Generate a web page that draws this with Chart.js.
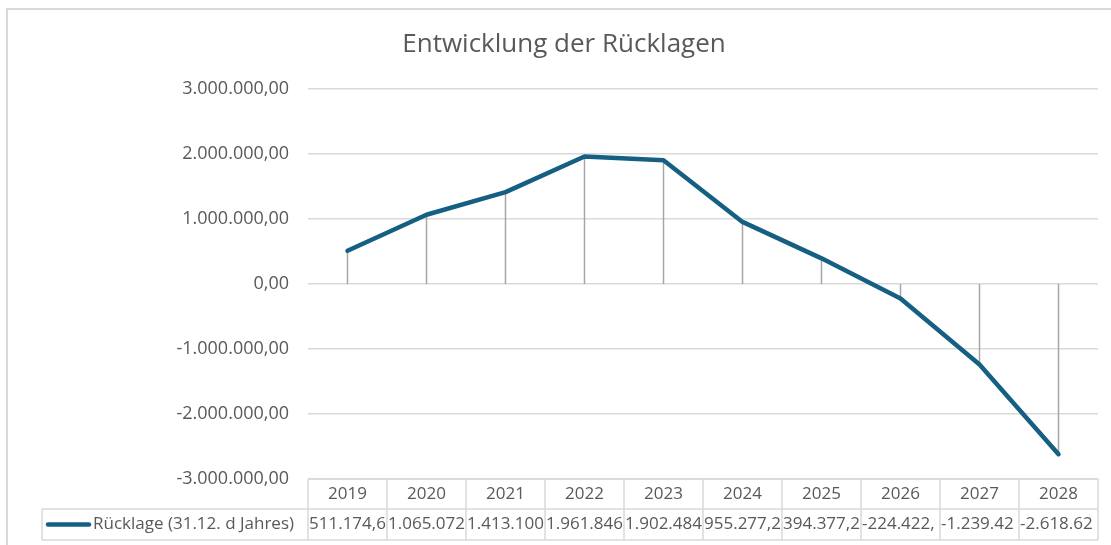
<!DOCTYPE html>
<html>
<head>
<meta charset="utf-8">
<script src="https://cdn.jsdelivr.net/npm/chart.js@4.4.1/dist/chart.umd.min.js"></script>
<style>
    html, body { margin: 0; padding: 0; background: #fff; overflow: hidden; }
    #frame { position: absolute; left: 6px; top: 8px; width: 1200px; height: 600px; border: 2px solid #d9d9d9; box-sizing: border-box; }
    #wrap { position: absolute; left: 0; top: 0; width: 1111px; height: 545px; }
</style>
</head>
<body>
<div id="frame"></div>
<div id="wrap"><canvas id="chart" width="1111" height="545"></canvas></div>
<script>
// --- Data ---
const years = ['2019', '2020', '2021', '2022', '2023', '2024', '2025', '2026', '2027', '2028'];
const reserves = [511174.6, 1065072, 1413100, 1961846, 1902484, 955277.2, 394377.2, -224422, -1239420, -2618620];
const yTicks = [-3000000, -2000000, -1000000, 0, 1000000, 2000000, 3000000];
const seriesName = 'Rücklage (31.12. d Jahres)';
const chartTitle = 'Entwicklung der Rücklagen';

const FONT = "'Open Sans', sans-serif";
const TEXT = '#595959';
const GRID = '#d9d9d9';
const LINE = '#156082';

// German number format, 2 decimals
function fmt(v) {
    const neg = v < 0;
    const parts = Math.abs(v).toFixed(2).split('.');
    const int = parts[0].replace(/\B(?=(\d{3})+(?!\d))/g, '.');
    return (neg ? '-' : '') + int + ',' + parts[1];
}

// --- Plugins ---
const dropLines = {
    id: 'dropLines',
    beforeDatasetsDraw(chart) {
        const ctx = chart.ctx;
        const meta = chart.getDatasetMeta(0);
        const y0 = chart.scales.y.getPixelForValue(0);
        ctx.save();
        ctx.strokeStyle = '#a6a6a6';
        ctx.lineWidth = 1.5;
        meta.data.forEach(pt => {
            ctx.beginPath();
            ctx.moveTo(pt.x, y0);
            ctx.lineTo(pt.x, pt.y);
            ctx.stroke();
        });
        ctx.restore();
    }
};

const titlePlugin = {
    id: 'titlePlugin',
    afterDraw(chart) {
        const ctx = chart.ctx;
        ctx.save();
        ctx.fillStyle = TEXT;
        ctx.font = `26px ${FONT}`;
        ctx.textAlign = 'center';
        ctx.textBaseline = 'middle';
        ctx.fillText(chartTitle, 564, 45);
        ctx.restore();
    }
};

const dataTable = {
    id: 'dataTable',
    afterDraw(chart) {
        const ctx = chart.ctx;
        const xs = chart.scales.x;
        const area = chart.chartArea;
        const top = area.bottom;
        const mid = top + 30;
        const bot = top + 61;
        const legendLeft = 42;
        const edges = years.map((_, i) => xs.getPixelForValue(i - 0.5));
        edges.push(xs.getPixelForValue(years.length - 0.5));

        ctx.save();
        ctx.strokeStyle = GRID;
        ctx.lineWidth = 1.5;
        ctx.beginPath();
        ctx.moveTo(area.left, top); ctx.lineTo(area.right, top);
        ctx.moveTo(legendLeft, mid); ctx.lineTo(area.right, mid);
        ctx.moveTo(legendLeft, bot); ctx.lineTo(area.right, bot);
        ctx.moveTo(legendLeft, mid); ctx.lineTo(legendLeft, bot);
        edges.forEach(x => { ctx.moveTo(x, top); ctx.lineTo(x, bot); });
        ctx.stroke();

        // legend key
        ctx.strokeStyle = LINE;
        ctx.lineWidth = 4.5;
        ctx.lineCap = 'round';
        ctx.beginPath();
        ctx.moveTo(48, (mid + bot) / 2);
        ctx.lineTo(89, (mid + bot) / 2);
        ctx.stroke();

        ctx.fillStyle = TEXT;
        ctx.font = `17px ${FONT}`;
        ctx.textBaseline = 'middle';
        ctx.textAlign = 'left';
        ctx.fillText(seriesName, 93, (mid + bot) / 2);

        years.forEach((yr, i) => {
            const l = edges[i], r = edges[i + 1];
            ctx.textAlign = 'center';
            ctx.fillText(yr, (l + r) / 2, (top + mid) / 2);

            // values too wide for the cell show only the characters that fit
            let txt = fmt(reserves[i]);
            const room = r - l;
            if (ctx.measureText(txt).width > room) {
                while (txt.length > 1 && ctx.measureText(txt).width > room) txt = txt.slice(0, -1);
                ctx.textAlign = 'left';
                ctx.fillText(txt, l + 1, (mid + bot) / 2);
            } else {
                ctx.fillText(txt, (l + r) / 2, (mid + bot) / 2);
            }
        });
        ctx.restore();
    }
};

// --- Chart ---
new Chart(document.getElementById('chart'), {
    type: 'line',
    data: {
        labels: years,
        datasets: [{
            label: seriesName,
            data: reserves,
            borderColor: LINE,
            borderWidth: 4.5,
            borderCapStyle: 'round',
            borderJoinStyle: 'round',
            pointRadius: 0,
            tension: 0,
            clip: false
        }]
    },
    options: {
        responsive: false,
        animation: false,
        layout: { padding: { top: 89, right: 13, bottom: 66, left: 0 } },
        plugins: {
            legend: { display: false },
            title: { display: false },
            tooltip: { enabled: false }
        },
        scales: {
            x: {
                display: false,
                offset: true
            },
            y: {
                min: yTicks[0],
                max: yTicks[yTicks.length - 1],
                afterFit(scale) { scale.width = 308; },
                afterBuildTicks(scale) { scale.ticks = yTicks.map(v => ({ value: v })); },
                border: { display: false },
                grid: { color: GRID, lineWidth: 1.5, drawTicks: false },
                ticks: {
                    padding: 19,
                    color: TEXT,
                    font: { family: FONT, size: 18 },
                    callback: v => fmt(v)
                }
            }
        }
    },
    plugins: [dropLines, titlePlugin, dataTable]
});
</script>
</body>
</html>
